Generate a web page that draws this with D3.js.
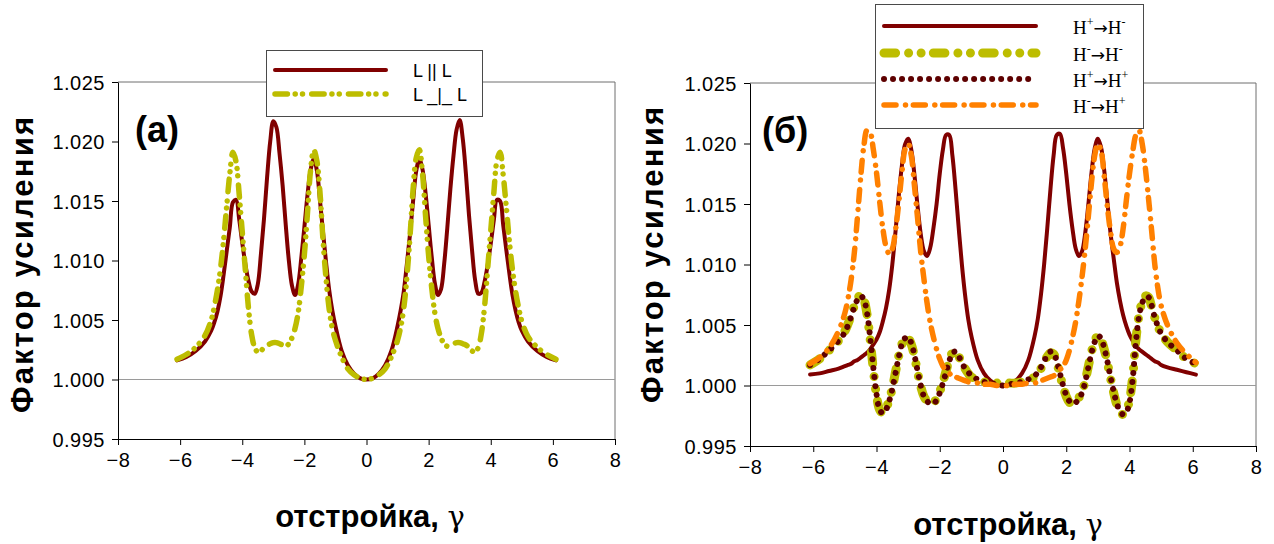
<!DOCTYPE html>
<html>
<head>
<meta charset="utf-8">
<script src="https://cdn.jsdelivr.net/npm/d3@7"></script>
<style>
  html, body { margin: 0; padding: 0; background: #fff; }
  svg { display: block; }
  text { font-family: "Liberation Sans", Arial, sans-serif; }
</style>
</head>
<body>
<script>
// Detuning grid (shared by every curve)
const detuning = [
  -6.1, -5.8, -5.5, -5.2, -5.0,
  -4.9, -4.8, -4.7, -4.6, -4.5, -4.4, -4.3, -4.2, -4.1, -4.0,
  -3.9, -3.8, -3.7, -3.6, -3.5, -3.4, -3.3, -3.2, -3.1, -3.0,
  -2.9, -2.8, -2.7, -2.6, -2.5, -2.4, -2.3, -2.2, -2.1, -2.0,
  -1.9, -1.8, -1.7, -1.6, -1.5, -1.4, -1.3, -1.2, -1.1, -1.0,
  -0.8, -0.6, -0.4, -0.2, 0.0, 0.2, 0.4, 0.6, 0.8,
  1.0, 1.1, 1.2, 1.3, 1.4, 1.5, 1.6, 1.7, 1.8, 1.9,
  2.0, 2.1, 2.2, 2.3, 2.4, 2.5, 2.6, 2.7, 2.8, 2.9,
  3.0, 3.1, 3.2, 3.3, 3.4, 3.5, 3.6, 3.7, 3.8, 3.9,
  4.0, 4.1, 4.2, 4.3, 4.4, 4.5, 4.6, 4.7, 4.8, 4.9,
  5.0, 5.2, 5.5, 5.8, 6.1
];

// (a) parallel polarisations, L || L
const gainParallel = [
  1.0016, 1.0019, 1.0024, 1.0032, 1.0041,
  1.0048, 1.0057, 1.0070, 1.0088, 1.0108, 1.0128, 1.0149, 1.0151, 1.0135, 1.0115,
  1.0097, 1.0083, 1.0074, 1.0072, 1.0080, 1.0105, 1.0135, 1.0170, 1.0200, 1.0217,
  1.0212, 1.0190, 1.0163, 1.0130, 1.0100, 1.0079, 1.0071, 1.0080, 1.0102, 1.0128,
  1.0155, 1.0176, 1.0185, 1.0176, 1.0151, 1.0124, 1.0098, 1.0075, 1.0058, 1.0045,
  1.0024, 1.0012, 1.0005, 1.0001, 1.0000, 1.0001, 1.0005, 1.0012, 1.0024,
  1.0045, 1.0058, 1.0074, 1.0097, 1.0122, 1.0150, 1.0175, 1.0185, 1.0177, 1.0157,
  1.0130, 1.0103, 1.0081, 1.0071, 1.0076, 1.0097, 1.0127, 1.0160, 1.0188, 1.0210,
  1.0218, 1.0202, 1.0173, 1.0138, 1.0108, 1.0083, 1.0072, 1.0073, 1.0082, 1.0096,
  1.0114, 1.0134, 1.0151, 1.0150, 1.0130, 1.0109, 1.0089, 1.0071, 1.0058, 1.0048,
  1.0041, 1.0032, 1.0024, 1.0019, 1.0016
];

// (a) crossed polarisations, L _|_ L
const gainCrossed = [
  1.0017, 1.0021, 1.0027, 1.0037, 1.0050,
  1.0061, 1.0075, 1.0093, 1.0117, 1.0146, 1.0173, 1.0191, 1.0183, 1.0156, 1.0124,
  1.0092, 1.0060, 1.0038, 1.0027, 1.0023, 1.0024, 1.0027, 1.0029, 1.0030, 1.0031,
  1.0031, 1.0030, 1.0029, 1.0028, 1.0030, 1.0035, 1.0043, 1.0056, 1.0078, 1.0105,
  1.0140, 1.0176, 1.0193, 1.0184, 1.0158, 1.0117, 1.0084, 1.0059, 1.0043, 1.0033,
  1.0019, 1.0009, 1.0004, 1.0001, 1.0000, 1.0001, 1.0004, 1.0009, 1.0019,
  1.0033, 1.0044, 1.0060, 1.0086, 1.0120, 1.0160, 1.0186, 1.0193, 1.0174, 1.0138,
  1.0104, 1.0077, 1.0056, 1.0043, 1.0035, 1.0030, 1.0028, 1.0029, 1.0030, 1.0031,
  1.0031, 1.0030, 1.0029, 1.0027, 1.0024, 1.0023, 1.0027, 1.0039, 1.0061, 1.0093,
  1.0125, 1.0157, 1.0184, 1.0191, 1.0172, 1.0145, 1.0116, 1.0092, 1.0074, 1.0060,
  1.0049, 1.0036, 1.0027, 1.0021, 1.0017
];

// (б) H+ -> H-
const gainPlusMinus = [
  1.0009, 1.0010, 1.0012, 1.0014, 1.0016,
  1.0017, 1.0018, 1.0020, 1.0021, 1.0023, 1.0025, 1.0027, 1.0030, 1.0034, 1.0038,
  1.0044, 1.0053, 1.0064, 1.0079, 1.0100, 1.0127, 1.0156, 1.0181, 1.0199, 1.0204,
  1.0195, 1.0174, 1.0148, 1.0125, 1.0111, 1.0107, 1.0114, 1.0130, 1.0150, 1.0175,
  1.0195, 1.0207, 1.0207, 1.0190, 1.0162, 1.0130, 1.0100, 1.0075, 1.0055, 1.0041,
  1.0021, 1.0010, 1.0004, 1.0001, 1.0000, 1.0001, 1.0004, 1.0010, 1.0021,
  1.0041, 1.0055, 1.0075, 1.0100, 1.0130, 1.0162, 1.0190, 1.0207, 1.0208, 1.0196,
  1.0175, 1.0150, 1.0129, 1.0113, 1.0107, 1.0111, 1.0126, 1.0150, 1.0176, 1.0196,
  1.0204, 1.0197, 1.0178, 1.0152, 1.0126, 1.0105, 1.0085, 1.0070, 1.0058, 1.0049,
  1.0042, 1.0037, 1.0033, 1.0030, 1.0028, 1.0026, 1.0024, 1.0022, 1.0020, 1.0019,
  1.0017, 1.0015, 1.0013, 1.0011, 1.0009
];

// (б) H- -> H-
const gainMinusMinus = [
  1.0017, 1.0022, 1.0029, 1.0037, 1.0045,
  1.0051, 1.0058, 1.0066, 1.0072, 1.0075, 1.0071, 1.0059, 1.0038, 1.0013, 0.9992,
  0.9980, 0.9977, 0.9981, 0.9988, 0.9998, 1.0011, 1.0024, 1.0034, 1.0039, 1.0039,
  1.0034, 1.0024, 1.0011, 0.9999, 0.9991, 0.9987, 0.9985, 0.9986, 0.9989, 0.9995,
  1.0003, 1.0012, 1.0021, 1.0027, 1.0028, 1.0024, 1.0019, 1.0014, 1.0010, 1.0007,
  1.0005, 1.0003, 1.0002, 1.0002, 1.0002, 1.0002, 1.0002, 1.0003, 1.0005,
  1.0007, 1.0010, 1.0014, 1.0019, 1.0024, 1.0027, 1.0026, 1.0019, 1.0009, 0.9999,
  0.9991, 0.9986, 0.9985, 0.9986, 0.9990, 0.9995, 1.0004, 1.0016, 1.0028, 1.0037,
  1.0041, 1.0038, 1.0030, 1.0019, 1.0006, 0.9994, 0.9984, 0.9978, 0.9976, 0.9979,
  0.9988, 1.0007, 1.0037, 1.0058, 1.0069, 1.0074, 1.0073, 1.0065, 1.0056, 1.0049,
  1.0043, 1.0036, 1.0029, 1.0022, 1.0018
];

// (б) H+ -> H+
const gainPlusPlus = [
  1.0017, 1.0022, 1.0029, 1.0037, 1.0044,
  1.0050, 1.0057, 1.0065, 1.0071, 1.0074, 1.0071, 1.0060, 1.0040, 1.0015, 0.9993,
  0.9980, 0.9977, 0.9980, 0.9987, 0.9997, 1.0010, 1.0023, 1.0034, 1.0039, 1.0040,
  1.0035, 1.0025, 1.0012, 1.0000, 0.9991, 0.9987, 0.9985, 0.9985, 0.9988, 0.9994,
  1.0002, 1.0011, 1.0020, 1.0027, 1.0028, 1.0024, 1.0019, 1.0014, 1.0011, 1.0008,
  1.0005, 1.0003, 1.0002, 1.0001, 1.0000, 1.0001, 1.0002, 1.0003, 1.0005,
  1.0008, 1.0011, 1.0015, 1.0020, 1.0025, 1.0028, 1.0027, 1.0020, 1.0010, 1.0000,
  0.9992, 0.9987, 0.9985, 0.9986, 0.9989, 0.9994, 1.0003, 1.0015, 1.0027, 1.0036,
  1.0041, 1.0039, 1.0031, 1.0020, 1.0007, 0.9995, 0.9985, 0.9979, 0.9976, 0.9978,
  0.9986, 1.0005, 1.0035, 1.0057, 1.0068, 1.0073, 1.0073, 1.0066, 1.0056, 1.0049,
  1.0043, 1.0036, 1.0029, 1.0022, 1.0018
];

// (б) H- -> H+
const gainMinusPlus = [
  1.0018, 1.0023, 1.0031, 1.0045, 1.0060,
  1.0072, 1.0088, 1.0110, 1.0140, 1.0172, 1.0198, 1.0211, 1.0209, 1.0195, 1.0176,
  1.0152, 1.0130, 1.0115, 1.0109, 1.0113, 1.0128, 1.0150, 1.0175, 1.0195, 1.0200,
  1.0190, 1.0165, 1.0138, 1.0110, 1.0088, 1.0068, 1.0052, 1.0040, 1.0030, 1.0022,
  1.0016, 1.0012, 1.0010, 1.0008, 1.0007, 1.0006, 1.0005, 1.0004, 1.0003, 1.0003,
  1.0002, 1.0001, 1.0001, 1.0000, 1.0000, 1.0000, 1.0001, 1.0001, 1.0002,
  1.0002, 1.0003, 1.0004, 1.0005, 1.0006, 1.0007, 1.0008, 1.0010, 1.0013, 1.0016,
  1.0021, 1.0029, 1.0040, 1.0053, 1.0070, 1.0090, 1.0113, 1.0140, 1.0168, 1.0190,
  1.0200, 1.0194, 1.0173, 1.0148, 1.0127, 1.0113, 1.0110, 1.0115, 1.0130, 1.0153,
  1.0175, 1.0193, 1.0207, 1.0211, 1.0200, 1.0180, 1.0155, 1.0128, 1.0100, 1.0080,
  1.0066, 1.0050, 1.0035, 1.0026, 1.0019
];

// Axis ticks
const xTicks = [-8, -6, -4, -2, 0, 2, 4, 6, 8];
const yTicks = [0.995, 1.000, 1.005, 1.010, 1.015, 1.020, 1.025];

// Text
const yTitle = "Фактор усиления";
const xTitleWord = "отстройка, ";
const xTitleSymbol = "γ";

// Line styles
const styles = {
  parallel:   { color: "#800000", width: 4,   dash: null },
  crossed:    { color: "#bdbd00", width: 5.5, dash: "12.4,7.8,0.01,7.3,0.01,9.2" },
  plusMinus:  { color: "#800000", width: 4,   dash: null },
  minusMinus: { color: "#bdbd00", width: 9,   dash: "11.6,13,0.01,12.5,0.01,12.2" },
  plusPlus:   { color: "#5e0000", width: 6,   dash: "0.01,9" },
  minusPlus:  { color: "#ff8000", width: 5.5, dash: "12,9.5,0.01,7.8" }
};

const W = 1274, H = 544;
const svg = d3.select("body").append("svg")
  .attr("width", W).attr("height", H)
  .attr("viewBox", `0 0 ${W} ${H}`);

function styled(sel, st) {
  sel.attr("fill", "none")
    .attr("stroke", st.color)
    .attr("stroke-width", st.width)
    .attr("stroke-linecap", "round")
    .attr("stroke-linejoin", "round");
  if (st.dash) sel.attr("stroke-dasharray", st.dash);
  return sel;
}

function drawPanel(p) {
  const g = svg.append("g");
  const x = d3.scaleLinear().domain([-8, 8]).range([p.left, p.right]);
  const y = d3.scaleLinear().domain([0.995, 1.025]).range([p.bottom, p.top]);

  // frame
  g.append("line").attr("x1", p.left).attr("x2", p.right)
    .attr("y1", p.top).attr("y2", p.top).attr("stroke", "#6e6e6e").attr("stroke-width", 1);
  g.append("line").attr("x1", p.right).attr("x2", p.right)
    .attr("y1", p.top).attr("y2", p.bottom).attr("stroke", "#6e6e6e").attr("stroke-width", 1);

  // baseline at 1.000
  g.append("line")
    .attr("x1", p.left).attr("x2", p.right)
    .attr("y1", Math.round(y(1.0)) + 0.5).attr("y2", Math.round(y(1.0)) + 0.5)
    .attr("stroke", "#9a9a9a").attr("stroke-width", 1);

  // axes
  const xAxis = d3.axisBottom(x).tickValues(xTicks).tickSize(6).tickSizeOuter(0).tickPadding(5)
    .tickFormat(d3.format("d"));
  const yAxis = d3.axisLeft(y).tickValues(yTicks).tickSize(6).tickSizeOuter(0).tickPadding(7)
    .tickFormat(d3.format(".3f"));

  const gx = g.append("g").attr("transform", `translate(0,${p.bottom})`).call(xAxis);
  const gy = g.append("g").attr("transform", `translate(${p.left},0)`).call(yAxis);
  [gx, gy].forEach(a => {
    a.select(".domain").attr("stroke", "#000").attr("stroke-width", 1);
    a.selectAll(".tick line").attr("stroke", "#000");
    a.selectAll(".tick text")
      .attr("fill", "#000")
      .style("font-family", "'Liberation Sans', Arial, sans-serif")
      .style("font-size", "20px")
      .style("letter-spacing", "0.5px");
  });
  gx.selectAll(".tick text").attr("dy", "0.85em");
  gy.selectAll(".tick text").attr("dy", "0.36em");

  // curves
  const line = d3.line()
    .x(d => x(d[0]))
    .y(d => y(d[1]))
    .curve(d3.curveCatmullRom.alpha(0.5));

  p.series.forEach(s => {
    const pts = detuning.map((v, i) => [v, s.values[i]]);
    styled(g.append("path").attr("d", line(pts)), s.style);
  });

  // axis titles
  g.append("text")
    .attr("transform", `translate(${p.yTitleX},${p.yTitleY}) rotate(-90)`)
    .attr("text-anchor", "middle")
    .attr("font-weight", "bold")
    .attr("font-size", 31)
    .attr("textLength", 296)
    .attr("fill", "#000")
    .text(yTitle);

  const xt = g.append("text")
    .attr("x", p.xTitleX).attr("y", p.xTitleY)
    .attr("text-anchor", "middle")
    .attr("fill", "#000");
  xt.append("tspan")
    .attr("font-weight", "bold")
    .attr("font-size", 31)
    .text(xTitleWord);
  xt.append("tspan")
    .style("font-family", "'DejaVu Serif', 'Liberation Serif', serif")
    .attr("font-size", 29)
    .text(xTitleSymbol);

  // panel label
  g.append("text")
    .attr("x", p.labelX).attr("y", p.labelY)
    .attr("font-weight", "bold")
    .attr("font-size", 36)
    .attr("fill", "#000")
    .text(p.label);

  // legend
  const lg = p.legend;
  g.append("rect")
    .attr("x", lg.x + 0.5).attr("y", lg.y + 0.5)
    .attr("width", lg.w).attr("height", lg.h)
    .attr("fill", "#fff").attr("stroke", "#4a4a4a").attr("stroke-width", 1);

  lg.items.forEach((it, i) => {
    const yy = lg.rowY[i];
    styled(g.append("path").attr("d", `M${lg.lineX1},${yy}L${lg.lineX2},${yy}`), it.style);
    const t = g.append("text")
      .attr("x", lg.textX).attr("y", yy + lg.textDy)
      .attr("fill", "#000")
      .style("font-family", lg.font)
      .style("font-size", lg.fontSize + "px");
    it.label.forEach(part => {
      const ts = t.append("tspan").text(part.t);
      if (part.sup) ts.style("font-size", "12px").attr("dy", -8);
      if (part.after) ts.attr("dy", 8);
      if (part.arrow) ts.style("font-family", "'DejaVu Sans', sans-serif").style("font-size", "17px");
    });
  });
}

// Panel (a)
drawPanel({
  left: 118, right: 615, top: 82, bottom: 439,
  yTitleX: 33, yTitleY: 265,
  xTitleX: 370, xTitleY: 527,
  label: "(a)", labelX: 135, labelY: 142,
  series: [
    { values: gainParallel, style: styles.parallel },
    { values: gainCrossed, style: styles.crossed }
  ],
  legend: {
    x: 266, y: 50, w: 216, h: 66,
    lineX1: 275, lineX2: 386, rowY: [70, 94],
    textX: 413, textDy: 7,
    font: "'Liberation Sans', Arial, sans-serif", fontSize: 18,
    items: [
      { style: styles.parallel, label: [{ t: "L || L" }] },
      { style: styles.crossed, label: [{ t: "L _|_ L" }] }
    ]
  }
});

// Panel (б)
drawPanel({
  left: 750, right: 1256, top: 83, bottom: 446,
  yTitleX: 663, yTitleY: 255,
  xTitleX: 1008, xTitleY: 535,
  label: "(б)", labelX: 762, labelY: 143,
  series: [
    { values: gainPlusMinus, style: styles.plusMinus },
    { values: gainMinusMinus, style: styles.minusMinus },
    { values: gainPlusPlus, style: styles.plusPlus },
    { values: gainMinusPlus, style: styles.minusPlus }
  ],
  legend: {
    x: 875, y: 4, w: 268, h: 124,
    lineX1: 884, lineX2: 1036, rowY: [26, 53, 79, 105],
    textX: 1073, textDy: 8,
    font: "'Liberation Serif', 'Times New Roman', serif", fontSize: 19,
    items: [
      { style: styles.plusMinus, label: [{ t: "H" }, { t: "+", sup: true }, { t: "→", after: true, arrow: true }, { t: "H" }, { t: "-", sup: true }] },
      { style: styles.minusMinus, label: [{ t: "H" }, { t: "-", sup: true }, { t: "→", after: true, arrow: true }, { t: "H" }, { t: "-", sup: true }] },
      { style: styles.plusPlus, label: [{ t: "H" }, { t: "+", sup: true }, { t: "→", after: true, arrow: true }, { t: "H" }, { t: "+", sup: true }] },
      { style: styles.minusPlus, label: [{ t: "H" }, { t: "-", sup: true }, { t: "→", after: true, arrow: true }, { t: "H" }, { t: "+", sup: true }] }
    ]
  }
});
</script>
</body>
</html>
